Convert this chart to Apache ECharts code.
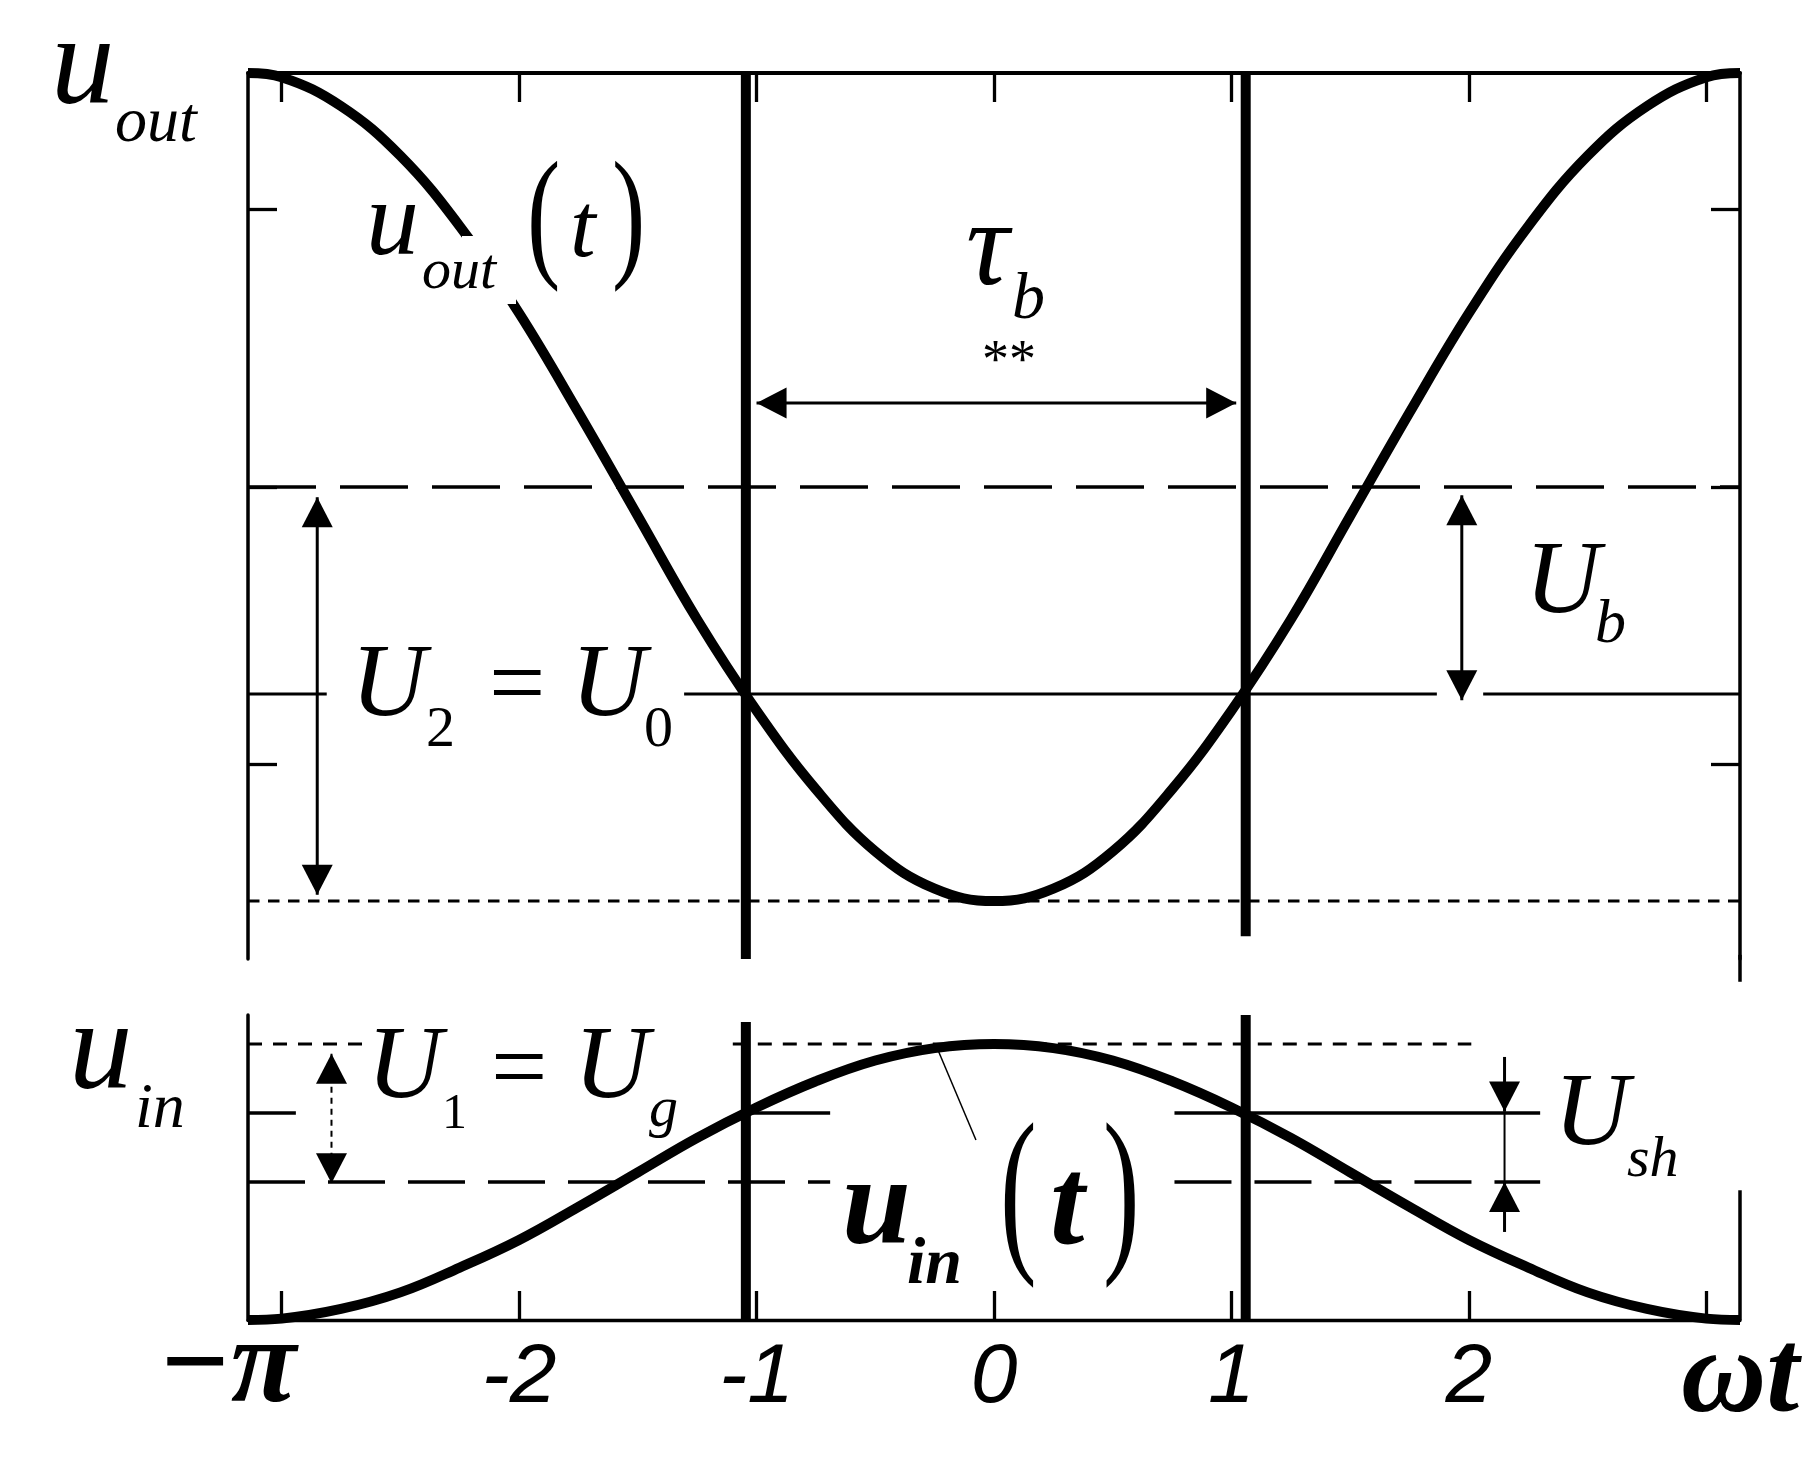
<!DOCTYPE html>
<html>
<head>
    <meta charset="utf-8">
    <title>u_out / u_in</title>
    <script src="https://cdn.jsdelivr.net/npm/echarts@6/dist/echarts.min.js"></script>
    <style>body { margin: 0; background: #fff; }</style>
</head>
<body>
    <div id="main" style="width: 1816px;height: 1467px;"></div>
    <script type="text/javascript">
        // phase ωt (rad) and the two waveforms
        var phase = [-3.1416, -3.0, -2.75, -2.5, -2.25, -2.0, -1.75, -1.5, -1.25, -1.0, -0.75, -0.5, -0.25, 0,
            0.25, 0.5, 0.75, 1.0, 1.25, 1.5, 1.75, 2.0, 2.25, 2.5, 2.75, 3.0, 3.1416];
        var uOut = [2.0, 1.99, 1.92, 1.8, 1.63, 1.42, 1.18, 0.93, 0.68, 0.46, 0.27, 0.12, 0.03, 0,
            0.03, 0.12, 0.27, 0.46, 0.68, 0.93, 1.18, 1.42, 1.63, 1.8, 1.92, 1.99, 2.0];
        var uIn = [0, 0.005, 0.04, 0.1, 0.19, 0.29, 0.41, 0.535, 0.66, 0.77, 0.865, 0.94, 0.985, 1,
            0.985, 0.94, 0.865, 0.77, 0.66, 0.535, 0.41, 0.29, 0.19, 0.1, 0.04, 0.005, 0];

        // levels
        var outMin = 0, outU0 = 0.5, outUb = 1.0, outMax = 2.0;
        var inMax = 1.0, inUg = 0.75, inUsh = 0.5;
        // cut-off phases (thick verticals)
        var cutLeft = -1.045, cutRight = 1.06;

        // ticks / labels
        var xTicks = [-3, -2, -1, 0, 1, 2, 3];
        var xLabelVals = [-2, -1, 0, 1, 2];
        var xLabelText = ['-2', '-1', '0', '1', '2'];
        var yTopTicks = [0.33, 1, 1.67];

        // dimension arrows: [x, y] of each tip and its direction
        var topArrowTips = [[-1.0, 1.203], [1.02, 1.203], [1.97, 0.98], [1.97, 0.485], [-2.85, 0.975], [-2.85, 0.015]];
        var topArrowDirs = ['left', 'right', 'up', 'down', 'up', 'down'];
        var botArrowTips = [[2.15, 0.755], [2.15, 0.5], [-2.79, 0.965], [-2.79, 0.495]];
        var botArrowDirs = ['down', 'up', 'up', 'down'];

        var PI = Math.PI;
        var BLACK = '#000';
        var myChart = echarts.init(document.getElementById('main'));

        function pts(ys) {
            var out = [];
            for (var i = 0; i < phase.length; i++) out.push([phase[i], ys[i]]);
            return out;
        }

        // simple line piece through the axes
        function seg(g, data, width, type) {
            return {
                type: 'line', xAxisIndex: g, yAxisIndex: g, data: data,
                symbol: 'none', silent: true, animation: false, clip: false, z: 3,
                lineStyle: { color: BLACK, width: width, type: type || 'solid', cap: 'butt' }
            };
        }

        // triangular arrow heads, tip sitting on the data point
        var HEAD_W = 31, HEAD_L = 30;
        var headRot = { up: 0, down: 180, left: 90, right: -90 };
        var headOff = {
            up: [0, HEAD_L / 2], down: [0, -HEAD_L / 2],
            left: [HEAD_L / 2, 0], right: [-HEAD_L / 2, 0]
        };
        function heads(g, tips, dirs) {
            return {
                type: 'scatter', xAxisIndex: g, yAxisIndex: g, silent: true, animation: false, z: 6,
                symbol: 'triangle', symbolSize: [HEAD_W, HEAD_L], clip: false,
                itemStyle: { color: BLACK, opacity: 1 },
                data: tips.map(function (p, i) {
                    return { value: p, symbolRotate: headRot[dirs[i]], symbolOffset: headOff[dirs[i]] };
                })
            };
        }

        var series = [
            // top panel
            seg(0, [[-PI, outUb], [PI, outUb]], 3.5, [68, 24]),
            seg(0, [[-PI, outMin], [PI, outMin]], 3, [11.5, 8.5]),
            seg(0, [[-PI, outU0], [-2.81, outU0]], 3),
            seg(0, [[-1.305, outU0], [1.865, outU0]], 3),
            seg(0, [[2.06, outU0], [PI, outU0]], 3),
            seg(0, [[cutLeft, -0.14], [cutLeft, outMax]], 10),
            seg(0, [[cutRight, -0.085], [cutRight, outMax]], 10),
            seg(0, [[PI, -0.195], [PI, -0.13]], 3.5),
            {
                type: 'line', xAxisIndex: 0, yAxisIndex: 0, data: pts(uOut), smooth: 0.4,
                symbol: 'none', silent: true, animation: false, z: 5,
                lineStyle: { color: BLACK, width: 10 }
            },
            seg(0, [topArrowTips[0], topArrowTips[1]], 3),
            seg(0, [topArrowTips[2], topArrowTips[3]], 3),
            seg(0, [topArrowTips[4], topArrowTips[5]], 3),
            heads(0, topArrowTips, topArrowDirs),

            // bottom panel
            seg(1, [[-PI, inMax], [-2.64, inMax]], 3, [14, 11]),
            seg(1, [[-1.10, inMax], [2.01, inMax]], 3, [14, 11]),
            seg(1, [[-PI, inUg], [-2.94, inUg]], 3.3),
            seg(1, [[-1.02, inUg], [-0.69, inUg]], 3.3),
            seg(1, [[0.76, inUg], [2.30, inUg]], 3.3),
            seg(1, [[-PI, inUsh], [-0.69, inUsh]], 3.3, [57, 23]),
            seg(1, [[0.76, inUsh], [2.30, inUsh]], 3.3, [57, 23]),
            seg(1, [[cutLeft, 0], [cutLeft, 1.08]], 10),
            seg(1, [[cutRight, 0], [cutRight, 1.105]], 10),
            seg(1, [[PI, 0], [PI, 0.47]], 3.5),
            seg(1, [[-0.236, 0.978], [-0.076, 0.652]], 1.5),
            {
                type: 'line', xAxisIndex: 1, yAxisIndex: 1, data: pts(uIn), smooth: 0.4,
                symbol: 'none', silent: true, animation: false, z: 5,
                lineStyle: { color: BLACK, width: 10 }
            },
            seg(1, [[2.15, 0.953], botArrowTips[0]], 3),
            seg(1, [botArrowTips[0], botArrowTips[1]], 2),
            seg(1, [[2.15, 0.319], botArrowTips[1]], 3),
            seg(1, [botArrowTips[2], botArrowTips[3]], 2, [6, 5]),
            heads(1, botArrowTips, botArrowDirs)
        ];

        // math-style text pieces, placed on their baseline
        function tx(s, x, base, size, style, align) {
            var k = 0.3375;
            return {
                type: 'text', x: x, y: base - k * size, z: 20, silent: true,
                style: {
                    text: s, fill: BLACK,
                    font: (style || '') + ' ' + size + 'px "Liberation Serif", "Times New Roman", serif',
                    verticalAlign: 'middle', align: align || 'left'
                }
            };
        }
        // stretched bracket, centred on cy
        function paren(s, x, cy, size, sy) {
            return {
                type: 'text', x: x, y: cy - 0.0875 * size * sy, scaleY: sy, z: 20, silent: true,
                style: {
                    text: s, fill: BLACK, font: size + 'px "Liberation Serif", serif',
                    verticalAlign: 'middle', align: 'left'
                }
            };
        }

        var I = 'italic', BI = 'italic bold';
        var graphics = [
            // gap in u_out curve under its label
            { type: 'rect', z: 15, silent: true, shape: { x: 462, y: 236, width: 54, height: 68 }, style: { fill: '#fff' } },

            tx('u', 51, 112, 127, I), tx('out', 115, 146, 64, I),

            tx('u', 366, 262, 106, I), tx('out', 422, 292, 58, I),
            paren('(', 527, 236, 100, 1.44), tx('t', 570, 263, 92, I), paren(')', 612, 236, 100, 1.44),

            tx('\u03c4', 966, 293, 120, I), tx('b', 1012, 323, 66, I),
            tx('**', 1009, 381, 54, '', 'center'),

            tx('U', 1525, 620, 104, I), tx('b', 1595, 647, 62, I),

            tx('U', 351, 723, 104, I), tx('2', 426, 750, 58), tx('=', 489, 723, 100),
            tx('U', 571, 723, 104, I), tx('0', 644, 750, 58),

            tx('u', 69, 1097, 127, I), tx('in', 135, 1132, 64, I),

            tx('U', 367, 1105, 104, I), tx('1', 442, 1132, 50), tx('=', 491, 1107, 100),
            tx('U', 574, 1105, 104, I), tx('g', 649, 1130, 58, I),

            tx('U', 1554, 1152, 104, I), tx('sh', 1627, 1180, 58, I),

            tx('u', 842, 1253, 124, BI), tx('in', 907, 1288, 66, BI),
            paren('(', 1000, 1217, 110, 1.65), tx('t', 1050, 1253, 124, BI), paren(')', 1103, 1217, 110, 1.65),

            tx('\u2212\u03c0', 158, 1410, 120, BI),
            tx('\u03c9t', 1681, 1420, 118, BI)
        ];

        var axisLine = function (w) { return { show: true, onZero: false, lineStyle: { color: BLACK, width: w } }; };
        var ticks = function (vals) {
            return { show: true, inside: true, length: 29, customValues: vals, lineStyle: { color: BLACK, width: 3.3 } };
        };

        var option = {
            backgroundColor: '#fff',
            animation: false,
            grid: [
                { left: 248, right: 76, top: 73, height: 886 },
                { left: 248, right: 76, top: 1015, height: 305 }
            ],
            xAxis: [
                {
                    type: 'value', gridIndex: 0, position: 'top', min: -PI, max: PI,
                    axisLine: axisLine(4), axisTick: ticks(xTicks),
                    axisLabel: { show: false }, splitLine: { show: false }
                },
                {
                    type: 'value', gridIndex: 1, position: 'bottom', min: -PI, max: PI,
                    axisLine: axisLine(3.3), axisTick: ticks(xTicks),
                    axisLabel: {
                        customValues: xLabelVals, margin: 17, color: BLACK,
                        fontFamily: '"Liberation Sans", Arial, sans-serif',
                        fontStyle: 'italic', fontSize: 84,
                        formatter: function (v) { return xLabelText[xLabelVals.indexOf(v)]; }
                    },
                    splitLine: { show: false }
                }
            ],
            yAxis: [
                {
                    type: 'value', gridIndex: 0, position: 'left', min: -0.14, max: outMax,
                    axisLine: axisLine(3.5), axisTick: ticks(yTopTicks),
                    axisLabel: { show: false }, splitLine: { show: false }
                },
                {
                    type: 'value', gridIndex: 0, position: 'right', min: -0.14, max: outMax,
                    axisLine: axisLine(3.5), axisTick: ticks(yTopTicks),
                    axisLabel: { show: false }, splitLine: { show: false }
                },
                {
                    type: 'value', gridIndex: 1, position: 'left', min: 0, max: 1.105,
                    axisLine: axisLine(3.5), axisTick: { show: false },
                    axisLabel: { show: false }, splitLine: { show: false }
                }
            ],
            series: series,
            graphic: graphics
        };

        // the bottom grid uses the third y axis
        option.series.forEach(function (s) {
            if (s.xAxisIndex === 1) s.yAxisIndex = 2;
        });

        myChart.setOption(option);
        window.onresize = myChart.resize;
    </script>
</body>
</html>
